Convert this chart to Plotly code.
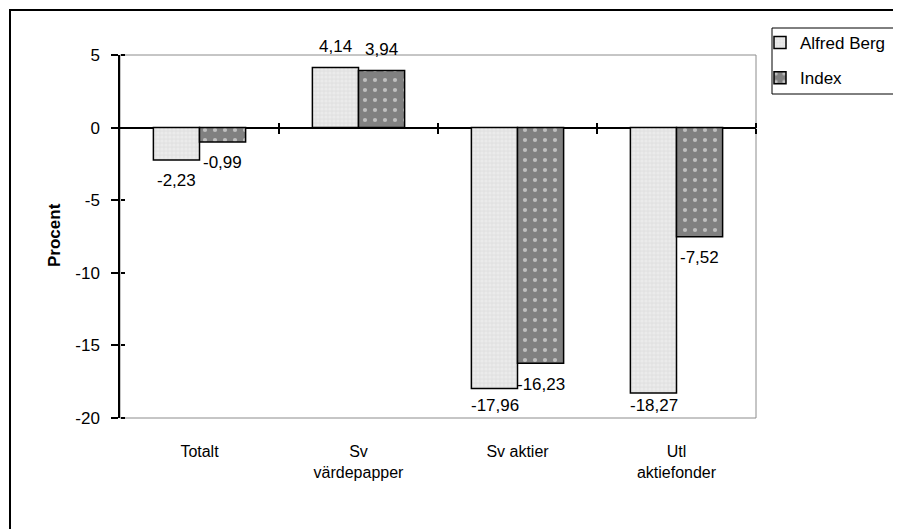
import plotly.graph_objects as go

categories = ["Totalt", "Sv<br>värdepapper", "Sv aktier", "Utl<br>aktiefonder"]
alfred_berg = [-2.23, 4.14, -17.96, -18.27]
index_vals = [-0.99, 3.94, -16.23, -7.52]
series_names = ["Alfred Berg", "Index"]
y_range = [-20, 5]
y_ticks = [-20, -15, -10, -5, 0, 5]
y_ticktext = [str(v) for v in y_ticks]

W, H = 901, 529
OFF = 8  # page body margin
ML, MT = 120 - OFF, 55 - OFF
PW, PH = 636, 363
MR, MB = W - ML - PW, H - MT - PH
ppu = PH / (y_range[1] - y_range[0])

def px_x(p):
    return (p - OFF - ML) / PW

def px_y(p):
    return (MT + PH - (p - OFF)) / PH

FONT = "Liberation Sans, Arial, sans-serif"

fig = go.Figure()
fig.add_trace(go.Bar(
    x=categories, y=alfred_berg, name=series_names[0], legendgroup="a",
    marker=dict(color="#e4e4e4", line=dict(color="black", width=1.5),
                pattern=dict(shape=".", bgcolor="#e2e2e2", fgcolor="#f4f4f4", size=4, solidity=0.5)),
))
fig.add_trace(go.Bar(
    x=categories, y=index_vals, name=series_names[1], legendgroup="b",
    marker=dict(color="#808080", line=dict(color="black", width=1.5),
                pattern=dict(shape=".", bgcolor="#808080", fgcolor="#ffffff", size=10, solidity=0.14)),
))
# dummy traces for auxiliary tick axes
fig.add_trace(go.Scatter(x=[None], y=[None], xaxis="x2", yaxis="y", showlegend=False, hoverinfo="skip"))
fig.add_trace(go.Scatter(x=[None], y=[None], xaxis="x3", yaxis="y", showlegend=False, hoverinfo="skip"))
fig.add_trace(go.Scatter(x=[None], y=[None], xaxis="x", yaxis="y2", showlegend=False, hoverinfo="skip"))

# data labels
floor = y_range[0] + 13 / ppu
for vals, shift in ((alfred_berg, -23), (index_vals, 23)):
    for c, v in zip(categories, vals):
        off = 21 / ppu
        if v >= 0:
            ay, ys = v, 21
        elif v - off < floor:
            ay, ys = floor, 0
        else:
            ay, ys = v, -21
        fig.add_annotation(x=c, y=ay, xref="x", yref="y", xshift=shift, yshift=ys,
                           text=f"{v:.2f}".replace(".", ","), showarrow=False,
                           font=dict(size=17, color="black", family=FONT),
                           xanchor="center", yanchor="middle")

# y-axis title
fig.add_annotation(x=px_x(54), y=px_y(235), xref="paper", yref="paper",
                   text="<b>Procent</b>", textangle=-90, showarrow=False,
                   font=dict(size=17, color="black", family=FONT),
                   xanchor="center", yanchor="middle")

zero_pos = (0 - y_range[0]) / (y_range[1] - y_range[0])
bound_ticks = [i + 0.5 for i in range(len(categories))]
xr = [-0.5, len(categories) - 0.5]

fig.update_layout(
    width=W, height=H,
    margin=dict(l=ML, r=MR, t=MT, b=MB),
    paper_bgcolor="white", plot_bgcolor="white",
    font=dict(family=FONT, color="black"),
    barmode="group", bargap=0.42, bargroupgap=0,
    showlegend=True,
    legend=dict(x=px_x(760), y=px_y(25), xanchor="left", yanchor="top",
                bgcolor="rgba(0,0,0,0)", borderwidth=0,
                font=dict(size=17, family=FONT, color="black"),
                traceorder="grouped", tracegroupgap=10),
    xaxis=dict(type="category", range=xr, showline=False, ticks="", showgrid=False,
               zeroline=False, tickfont=dict(size=16), ticklabelstandoff=22),
    xaxis2=dict(type="linear", range=xr, overlaying="x", anchor="free", position=zero_pos,
                side="bottom", tickvals=bound_ticks, ticks="outside", ticklen=5,
                tickwidth=1.5, tickcolor="black", showticklabels=False,
                showline=False, showgrid=False, zeroline=False),
    xaxis3=dict(type="linear", range=xr, overlaying="x", anchor="free", position=zero_pos,
                side="top", tickvals=bound_ticks, ticks="outside", ticklen=5,
                tickwidth=1.5, tickcolor="black", showticklabels=False,
                showline=False, showgrid=False, zeroline=False),
    yaxis=dict(range=y_range, tickvals=y_ticks, ticktext=y_ticktext, ticks="outside",
               ticklen=7, tickwidth=1.5, tickcolor="black", showline=True,
               linecolor="black", linewidth=1.5, zeroline=True, zerolinecolor="black",
               zerolinewidth=1.5, showgrid=False, tickfont=dict(size=17),
               ticklabelstandoff=8),
    yaxis2=dict(range=y_range, overlaying="y", anchor="free", position=0, side="right",
                tickvals=y_ticks, ticks="outside", ticklen=4, tickwidth=1.5,
                tickcolor="black", showticklabels=False, showline=False,
                showgrid=False, zeroline=False),
    shapes=[
        dict(type="rect", xref="x domain", yref="y domain", x0=0, x1=1, y0=0, y1=1,
             line=dict(color="#8c8c8c", width=1), layer="below"),
        dict(type="rect", xref="paper", yref="paper", x0=px_x(10), x1=px_x(915),
             y0=px_y(545), y1=px_y(10), line=dict(color="black", width=2)),
        dict(type="rect", xref="paper", yref="paper", x0=px_x(772), x1=px_x(915),
             y0=px_y(94), y1=px_y(28), line=dict(color="black", width=1)),
    ],
)

fig.write_html("out.html")
